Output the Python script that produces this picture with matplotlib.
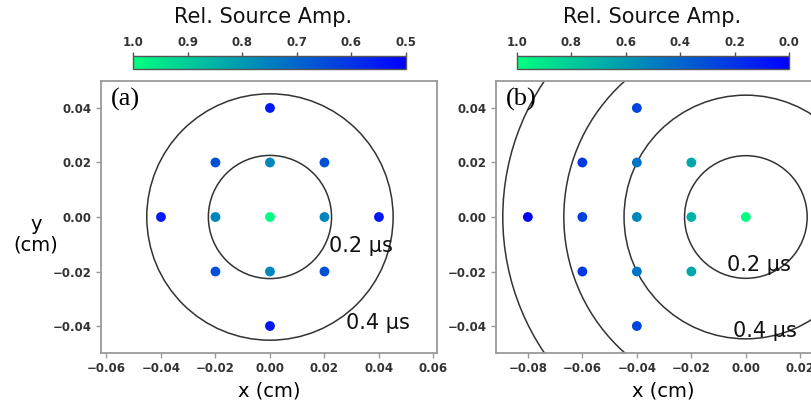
import numpy as np
import matplotlib
matplotlib.use("Agg")
import matplotlib.pyplot as plt
from matplotlib.colors import Normalize
from matplotlib.cm import ScalarMappable
from matplotlib.patches import Circle

plt.rcParams['font.family'] = ['DejaVu Sans']

# Panel (a): symmetric source layout
a_x = [0.0, 0.02, -0.02, 0.0, 0.0, 0.02, 0.02, -0.02, -0.02, 0.04, -0.04, 0.0, 0.0]
a_y = [0.0, 0.0, 0.0, 0.02, -0.02, 0.02, -0.02, 0.02, -0.02, 0.0, 0.0, 0.04, -0.04]
a_amp = [1.0, 0.76, 0.76, 0.76, 0.76, 0.66, 0.66, 0.66, 0.66, 0.55, 0.55, 0.55, 0.55]
a_radii = [0.0226, 0.0452]
a_cbar_ticks = [1.0, 0.9, 0.8, 0.7, 0.6, 0.5]

# Panel (b): sources trailing to the left
b_x = [0.0, -0.02, -0.02, -0.02, -0.04, -0.04, -0.04, -0.04, -0.04,
       -0.06, -0.06, -0.06, -0.08]
b_y = [0.0, 0.0, 0.02, -0.02, 0.0, 0.02, -0.02, 0.04, -0.04,
       0.0, 0.02, -0.02, 0.0]
b_amp = [1.0, 0.70, 0.65, 0.65, 0.54, 0.46, 0.46, 0.27, 0.27,
         0.25, 0.22, 0.22, 0.02]
b_radii = [0.0225, 0.0447, 0.0668, 0.0892]
b_cbar_ticks = [1.0, 0.8, 0.6, 0.4, 0.2, 0.0]

time_labels = ["0.2 \u00b5s", "0.4 \u00b5s"]

W, H = 812, 409
fig = plt.figure(figsize=(W / 100, H / 100), dpi=100)


def px_axes(x0, y_top, w, h):
    return fig.add_axes([x0 / W, (H - y_top - h) / H, w / W, h / H])


spine_col = '#9a9a9a'
tick_col = '#333333'


def fmt(t):
    return f"{t:.2f}".replace('-', '\u2212')


def style_axes(ax):
    for s in ax.spines.values():
        s.set_color(spine_col)
        s.set_linewidth(1.3)
    ax.tick_params(direction='out', length=3.5, width=1, color=spine_col,
                   labelsize=8.5, labelcolor=tick_col, pad=3)
    for lab in ax.get_xticklabels() + ax.get_yticklabels():
        lab.set_fontweight('bold')


def panel(ax, xs, ys, amps, radii, norm, xlim, xticks, letter, lab_pos):
    yticks = [-0.04, -0.02, 0.0, 0.02, 0.04]
    ax.set_xlim(*xlim)
    ax.set_ylim(-0.0499, 0.0499)
    for r in radii:
        ax.add_patch(Circle((0, 0), r, fill=False, ec='#333333', lw=1.1, zorder=1))
    ax.scatter(xs, ys, c=amps, cmap='winter', norm=norm, s=50,
               edgecolors='none', zorder=3)
    ax.set_xticks(xticks)
    ax.set_yticks(yticks)
    ax.set_xticklabels([fmt(t) for t in xticks])
    ax.set_yticklabels([fmt(t) for t in yticks])
    style_axes(ax)
    ax.text(0.03, 0.975, letter, transform=ax.transAxes, ha='left', va='top',
            family='Liberation Serif', fontsize=19)
    for (tx, ty), lab in zip(lab_pos, time_labels):
        ax.text(tx, ty, lab, fontsize=15, ha='left', va='center', zorder=4,
                color='#111111')


# Panel (a)
ax1 = px_axes(101, 81, 336, 272)
norm_a = Normalize(0.5, 1.0)
panel(ax1, a_x, a_y, a_amp, a_radii, norm_a, (-0.0620, 0.0613),
      [-0.06, -0.04, -0.02, 0.0, 0.02, 0.04, 0.06], '(a)',
      [(0.0215, -0.0105), (0.0280, -0.0390)])
ax1.set_xlabel('x (cm)', fontsize=14, labelpad=5)
fig.text(36 / W, 1 - 235 / H, 'y\n(cm)', fontsize=14, ha='center', va='center',
         linespacing=1.1)

# Panel (b)
ax2 = px_axes(495.7, 81, 336, 272)
norm_b = Normalize(0.0, 1.0)
panel(ax2, b_x, b_y, b_amp, b_radii, norm_b, (-0.0918, 0.0315),
      [-0.08, -0.06, -0.04, -0.02, 0.0, 0.02], '(b)',
      [(-0.0068, -0.0175), (-0.0047, -0.0420)])
ax2.set_xlabel('x (cm)', fontsize=14, labelpad=5)


def cbar(x0, w, norm, ticks, title_x):
    cax = px_axes(x0, 56, w, 13)
    cb = fig.colorbar(ScalarMappable(norm=norm, cmap='winter'), cax=cax,
                      orientation='horizontal', ticks=ticks)
    cax.invert_xaxis()
    cax.xaxis.set_ticks_position('top')
    cax.xaxis.set_label_position('top')
    cax.set_xticklabels([f"{t:.1f}" for t in ticks])
    cb.outline.set_edgecolor('#555555')
    cb.outline.set_linewidth(1)
    cax.tick_params(direction='out', length=3, width=1, color='#555555',
                    labelsize=8.5, labelcolor=tick_col, pad=2)
    for lab in cax.get_xticklabels():
        lab.set_fontweight('bold')
    fig.text(title_x / W, 1 - 17 / H, 'Rel. Source Amp.', fontsize=15,
             ha='center', va='center', color='#111111')


cbar(133, 273, norm_a, a_cbar_ticks, 263)
cbar(517, 272, norm_b, b_cbar_ticks, 652)

fig.savefig('out.png', dpi=100)
